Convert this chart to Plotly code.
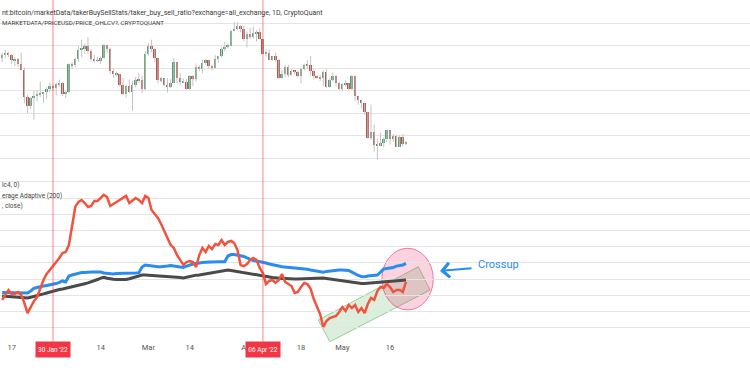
import pandas as pd
import plotly.graph_objects as go

# ---------------- data ----------------
dates = pd.date_range("2022-01-14", periods=128, freq="D")

open_ = [42600, 43100, 43200, 43100, 42200, 42400, 41700, 40700, 36500, 35100, 36300, 36700, 36900, 37100, 37300, 37700,
         38200, 37900, 38500, 38700, 37000, 37300, 41600, 41400, 42400, 43800, 44100, 44400, 43600, 42400, 42200, 42100,
         42600, 44600, 43900, 40500, 40000, 40100, 38400, 37000, 38200, 37300, 38300, 39200, 39100, 37700, 43200, 44400,
         44000, 42500, 39100, 39400, 38400, 38000, 38700, 41900, 39400, 38800, 38900, 37800, 39700, 39300, 41100, 40900,
         41800, 42200, 41300, 41000, 42400, 42900, 44000, 44300, 44500, 46800, 47100, 47500, 47100, 45500, 46300, 45800,
         46400, 46600, 45500, 43200, 43400, 42300, 42800, 42200, 39500, 40100, 41100, 39900, 40600, 40400, 39700, 40800,
         41500, 41400, 40500, 39700, 39500, 39400, 40400, 38100, 39200, 39700, 38600, 37700, 38500, 38600, 37700, 39700,
         36600, 36000, 35500, 34100, 30100, 31000, 29100, 29000, 29300, 29900, 31300, 29900, 30400, 28700, 30300, 29200]
high = [43400, 43800, 43500, 43200, 42700, 42600, 43400, 41100, 36800, 36500, 37500, 37500, 38900, 37200, 38000, 38700,
        38400, 38700, 39200, 38800, 37400, 41700, 41900, 42600, 44400, 45400, 44800, 45800, 43900, 43000, 42700, 42800,
        44700, 44600, 44200, 40900, 40400, 40100, 39400, 38400, 39200, 39000, 39600, 40200, 39800, 43600, 44900, 45400,
        44100, 42500, 39600, 39400, 39400, 39300, 42600, 41900, 40200, 39400, 39300, 39900, 39900, 41700, 41500, 42300,
        42400, 42300, 41500, 43000, 42900, 44200, 45100, 44800, 46900, 48100, 48100, 47700, 47600, 46700, 47200, 47400,
        46900, 47200, 45500, 43900, 43900, 42800, 43400, 42400, 40700, 41500, 41500, 40800, 40600, 40600, 41100, 41700,
        42200, 42900, 40800, 39900, 39900, 40600, 40800, 39400, 40300, 39900, 38800, 38600, 39100, 38600, 39900, 39800,
        36600, 36100, 35500, 34200, 35300, 32200, 30000, 30900, 30200, 31400, 31300, 30700, 30600, 30500, 30700, 29600]
low = [41900, 42600, 42700, 41600, 41300, 41200, 40600, 35500, 34000, 34600, 33000, 35800, 36500, 35600, 36200, 37300,
       37400, 36700, 38100, 36700, 36300, 37100, 40900, 41100, 42000, 42700, 43200, 43200, 42000, 41800, 41900, 41600,
       42500, 43300, 40100, 39500, 39700, 38100, 36800, 36400, 37100, 34300, 38000, 38700, 37100, 37500, 42900, 43400,
       41900, 38600, 38800, 38200, 37200, 37900, 38700, 38600, 38300, 38700, 37600, 37600, 38200, 38900, 40500, 40200,
       41500, 40900, 40600, 40900, 41800, 42600, 43600, 44100, 44400, 46700, 46900, 46600, 45200, 44200, 45600, 45600,
       45100, 45400, 43100, 42800, 42200, 42100, 42000, 39300, 39300, 39600, 39600, 39800, 40000, 39600, 38600, 40600,
       40900, 39800, 39200, 39300, 39000, 38200, 37900, 37900, 38900, 38200, 37600, 37400, 38100, 37600, 37600, 35900,
       35300, 34800, 33700, 30000, 29800, 28000, 26700, 28800, 28700, 29500, 29100, 29500, 28700, 28700, 28800, 29000]
close = [43100, 43200, 43100, 42200, 42400, 41700, 40700, 36500, 35100, 36300, 36700, 36900, 37100, 37300, 37700, 38200,
         37900, 38500, 38700, 37000, 37300, 41600, 41400, 42400, 43800, 44100, 44400, 43600, 42400, 42200, 42100, 42600,
         44600, 43900, 40500, 40000, 40100, 38400, 37000, 38200, 37300, 38300, 39200, 39100, 37700, 43200, 44400, 44000,
         42500, 39100, 39400, 38400, 38000, 38700, 41900, 39400, 38800, 38900, 37800, 39700, 39300, 41100, 40900, 41800,
         42200, 41300, 41000, 42400, 42900, 44000, 44300, 44500, 46800, 47100, 47500, 47100, 45500, 46300, 45800, 46400,
         46600, 45500, 43200, 43400, 42300, 42800, 42200, 39500, 40100, 41100, 39900, 40600, 40400, 39700, 40800, 41500,
         41400, 40500, 39700, 39500, 39400, 40400, 38100, 39200, 39700, 38600, 37700, 38500, 38600, 37700, 39700, 36600,
         36000, 35500, 34100, 30100, 31000, 29100, 29000, 29300, 29900, 31300, 29900, 30400, 28700, 30300, 29200, 29400]

taker_ratio = [2.72, 3.02, 3.33, 3.09, 3.09, 3.21, 3.02, 2.53, 1.91, 2.28, 2.65, 2.90, 3.46, 3.95, 4.32, 4.57,
               4.81, 5.00, 5.31, 5.62, 5.68, 6.11, 7.35, 8.46, 8.77, 8.89, 8.70, 8.46, 8.52, 8.83, 8.83, 9.01,
               9.20, 9.07, 8.52, 8.64, 8.77, 8.89, 9.01, 9.14, 8.70, 8.83, 9.01, 8.89, 8.70, 9.14, 9.01, 8.27,
               8.02, 7.78, 7.41, 6.98, 6.48, 6.11, 5.93, 5.49, 5.19, 4.88, 5.06, 5.12, 5.06, 4.75, 5.49, 5.93,
               5.68, 6.05, 5.86, 6.17, 6.11, 6.42, 6.11, 6.30, 6.36, 6.23, 5.80, 4.88, 4.81, 4.94, 5.19, 5.31,
               5.19, 4.69, 4.38, 3.70, 3.89, 3.95, 3.77, 3.95, 4.32, 3.83, 3.70, 3.58, 3.15, 3.21, 3.52, 3.77,
               3.70, 3.40, 2.78, 2.28, 1.85, 1.05, 1.42, 1.60, 1.67, 1.73, 1.98, 2.28, 2.04, 2.41, 2.22, 2.41,
               1.98, 2.22, 1.91, 2.47, 2.84, 2.72, 3.27, 3.52, 3.46, 3.70, 3.52, 3.21, 3.33, 3.33, 3.21, 3.83]
ma_adaptive = [3.18, 3.18, 3.18, 3.18, 3.19, 3.19, 3.18, 3.16, 3.15, 3.27, 3.43, 3.49, 3.55, 3.58, 3.61, 3.64,
               3.67, 3.73, 3.80, 3.89, 3.83, 4.20, 4.26, 4.32, 4.38, 4.41, 4.41, 4.44, 4.44, 4.44, 4.46, 4.44,
               4.38, 4.35, 4.32, 4.32, 4.35, 4.35, 4.36, 4.38, 4.38, 4.38, 4.38, 4.40, 4.75, 4.88, 4.85, 4.81,
               4.78, 4.77, 4.77, 4.78, 4.81, 4.85, 4.81, 4.78, 4.75, 4.73, 4.81, 4.88, 4.94, 4.97, 5.02, 5.03,
               5.04, 5.06, 5.06, 5.06, 5.08, 5.08, 5.08, 5.43, 5.52, 5.52, 5.49, 5.45, 5.40, 5.31, 5.22, 5.15,
               5.12, 5.09, 5.03, 5.00, 4.94, 4.91, 4.88, 4.81, 4.77, 4.75, 4.73, 4.72, 4.71, 4.71, 4.69, 4.66,
               4.61, 4.57, 4.54, 4.51, 4.44, 4.43, 4.48, 4.51, 4.54, 4.55, 4.57, 4.57, 4.55, 4.54, 4.44, 4.32,
               4.23, 4.17, 4.15, 4.20, 4.23, 4.23, 4.26, 4.44, 4.63, 4.66, 4.69, 4.72, 4.81, 4.85, 4.88, 4.97]
sma_close = [2.96, 2.94, 2.93, 2.91, 2.90, 2.88, 2.87, 2.85, 2.84, 2.89, 2.93, 2.98, 3.02, 3.09, 3.15, 3.21,
             3.27, 3.31, 3.36, 3.40, 3.44, 3.49, 3.53, 3.58, 3.62, 3.67, 3.72, 3.77, 3.83, 3.89, 3.98, 4.07,
             4.12, 4.06, 4.01, 4.00, 3.98, 3.97, 3.96, 3.98, 4.03, 4.09, 4.14, 4.20, 4.26, 4.26, 4.25, 4.24,
             4.23, 4.22, 4.21, 4.20, 4.18, 4.16, 4.14, 4.12, 4.10, 4.07, 4.12, 4.17, 4.21, 4.25, 4.26, 4.29,
             4.32, 4.36, 4.40, 4.43, 4.46, 4.49, 4.52, 4.56, 4.54, 4.51, 4.48, 4.44, 4.41, 4.38, 4.32, 4.29,
             4.26, 4.23, 4.20, 4.17, 4.14, 4.10, 4.07, 4.06, 4.05, 4.04, 4.02, 4.01, 4.01, 4.01, 4.02, 4.04,
             4.04, 4.06, 4.06, 4.07, 4.07, 4.07, 4.04, 4.01, 3.98, 3.94, 3.90, 3.87, 3.84, 3.83, 3.80, 3.77,
             3.75, 3.73, 3.73, 3.75, 3.77, 3.78, 3.80, 3.81, 3.83, 3.84, 3.86, 3.87, 3.89, 3.91, 3.93, 3.95]

tick_dates = ["2022-01-17", "2022-02-14", "2022-03-01", "2022-03-14",
              "2022-04-01", "2022-04-18", "2022-05-01", "2022-05-16"]
tick_labels = ["17", "14", "Mar", "14", "Apr", "18", "May", "16"]
marked_dates = ["2022-01-30", "2022-04-06"]
marked_labels = ["30 Jan '22", "06 Apr '22"]

header_1 = "nt:bitcoin/marketData/takerBuySellStats/taker_buy_sell_ratio?exchange=all_exchange, 1D, CryptoQuant"
header_2 = "MARKETDATA/PRICEUSD/PRICE_OHLCV?, CRYPTOQUANT"
legend_rows = ["lc4, 0)", "erage Adaptive (200)", ", close)"]

# ---------------- style ----------------
W, H = 750, 375
FONT = "Roboto"
GREEN, RED = "#5a9b74", "#b5554b"
WICK = "#c3c3c3"
GRID = "#e4e4e4"


def py(px):
    return 1 - px / H


def ms(s):
    return pd.Timestamp(s).value // 10**6


fig = go.Figure()

# candles: wicks + bodies
wx, wy = [], []
for d, h, l in zip(dates, high, low):
    wx += [d, d, None]
    wy += [l, h, None]
fig.add_trace(go.Scatter(x=wx, y=wy, mode="lines", line=dict(color=WICK, width=1),
                         xaxis="x", yaxis="y", hoverinfo="skip", showlegend=False))
fig.add_trace(go.Bar(x=dates, y=[max(abs(c - o), 60) for o, c in zip(open_, close)],
                     base=[min(o, c) for o, c in zip(open_, close)],
                     marker=dict(color=[GREEN if c >= o else RED for o, c in zip(open_, close)],
                                 line=dict(width=0)),
                     width=0.62 * 86400000, xaxis="x", yaxis="y", hoverinfo="skip", showlegend=False))

# indicator lines
fig.add_trace(go.Scatter(x=dates, y=sma_close, mode="lines", line=dict(color="#4a4a4a", width=3),
                         xaxis="x2", yaxis="y2", showlegend=False, hoverinfo="skip"))
fig.add_trace(go.Scatter(x=dates, y=ma_adaptive, mode="lines", line=dict(color="#2b8cf0", width=3),
                         xaxis="x2", yaxis="y2", showlegend=False, hoverinfo="skip"))
fig.add_trace(go.Scatter(x=dates, y=taker_ratio, mode="lines", line=dict(color="#f2533f", width=2.5),
                         xaxis="x2", yaxis="y2", showlegend=False, hoverinfo="skip"))

x_range = ["2022-01-13 08:00", "2022-09-06 04:20"]
top_dom = [py(168), py(1)]
bot_dom = [py(341.5), py(170)]

shapes = []
# vertical markers
for d in marked_dates:
    shapes.append(dict(type="line", xref="x", yref="paper", x0=d, x1=d, y0=bot_dom[0], y1=1,
                       line=dict(color="rgba(242,54,69,0.38)", width=1.6), layer="above"))
# green channel (rotated rectangle)
A = (ms("2022-04-23 10:00"), 1.48)
B = (ms("2022-05-24 21:00"), 4.77)
C = (ms("2022-05-28 14:00"), 3.33)
D = (ms("2022-04-27 02:00"), 0.14)
shapes.append(dict(type="path", xref="x2", yref="y2",
                   path=f"M {A[0]},{A[1]} L {B[0]},{B[1]} L {C[0]},{C[1]} L {D[0]},{D[1]} Z",
                   fillcolor="rgba(76,175,80,0.2)", line=dict(color="rgba(76,175,80,0.55)", width=1),
                   layer="below"))
# pink circle
shapes.append(dict(type="circle", xref="x2", yref="y2", x0="2022-05-13 10:00", x1="2022-05-29 14:00",
                   y0=2.10, y1=5.91, fillcolor="rgba(233,30,99,0.2)",
                   line=dict(color="rgba(233,30,99,0.55)", width=1), layer="below"))

annotations = [
    dict(text=header_1, x=0, y=py(13), xref="paper", yref="paper", xanchor="left", yanchor="middle",
         showarrow=False, font=dict(family=FONT, size=7, color="#3a3a3a")),
    dict(text=header_2, x=0, y=py(23), xref="paper", yref="paper", xanchor="left", yanchor="middle",
         showarrow=False, font=dict(family=FONT, size=6.2, color="#3a3a3a")),
]
for row, ypx in zip(legend_rows, [185, 196, 206]):
    annotations.append(dict(text=row, x=0, y=py(ypx), xref="paper", yref="paper", xanchor="left",
                            yanchor="middle", showarrow=False,
                            font=dict(family=FONT, size=6.5, color="#444444")))
for d, lab in zip(marked_dates, marked_labels):
    annotations.append(dict(text=lab, x=d, y=py(349), xref="x", yref="paper", xanchor="center",
                            yanchor="middle", showarrow=False, bgcolor="#f23645", borderpad=1,
                            width=32, height=13, font=dict(family=FONT, size=6.5, color="white")))
# Crossup arrow + label
annotations.append(dict(text="", x="2022-05-31 17:00", y=4.51, xref="x2", yref="y2",
                        ax="2022-06-11 02:00", ay=4.69, axref="x2", ayref="y2", showarrow=True,
                        arrowhead=4, arrowsize=1.4, arrowwidth=2, arrowcolor="#2b8cf0"))
annotations.append(dict(text="Crossup", x="2022-06-12 00:00", y=4.88, xref="x2", yref="y2",
                        xanchor="left", yanchor="middle", showarrow=False,
                        font=dict(family=FONT, size=11, color="#2b8cf0")))

fig.update_layout(
    width=W, height=H, margin=dict(l=0, r=0, t=0, b=0, autoexpand=False),
    paper_bgcolor="white", plot_bgcolor="white",
    showlegend=False, bargap=0,
    xaxis=dict(domain=[0, 1], range=x_range, type="date", anchor="y", showticklabels=False,
               showgrid=False, zeroline=False, matches="x2"),
    yaxis=dict(domain=top_dom, range=[25444, 51422], tick0=27000, dtick=3500, showticklabels=False,
               showgrid=True, gridcolor=GRID, gridwidth=1, zeroline=False),
    xaxis2=dict(domain=[0, 1], range=x_range, type="date", anchor="y2", showgrid=False, zeroline=False,
                tickmode="array", tickvals=tick_dates, ticktext=tick_labels, ticks="",
                tickfont=dict(family=FONT, size=7.5, color="#555555")),
    yaxis2=dict(domain=bot_dom, range=[0.154, 10.74], tick0=0, dtick=1, showticklabels=False,
                showgrid=True, gridcolor=GRID, gridwidth=1, zeroline=False),
    shapes=shapes, annotations=annotations,
)

fig.write_html("out.html", config={"displayModeBar": False},
               post_script="document.body.style.margin='0';document.body.style.overflow='hidden';")
